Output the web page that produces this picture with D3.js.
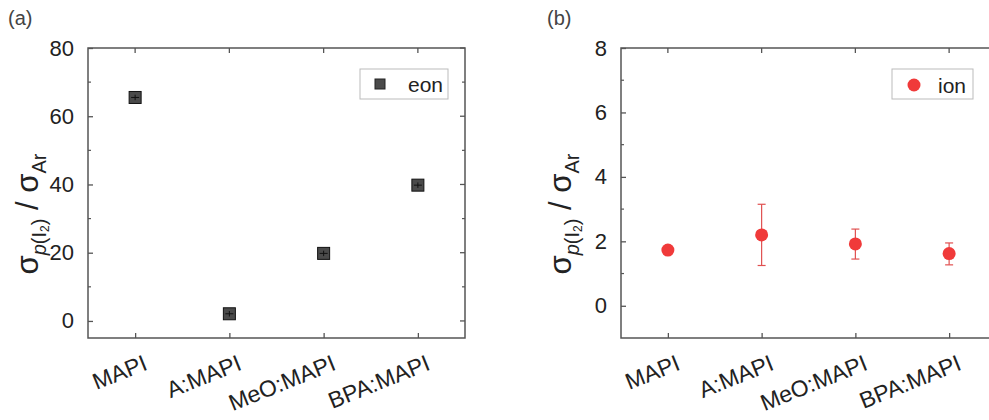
<!DOCTYPE html>
<html><head><meta charset="utf-8">
<script src="https://cdn.jsdelivr.net/npm/d3@7"></script>
<style>body{margin:0;background:#fff}svg{display:block}text{font-family:"Liberation Sans",Arial,sans-serif}</style>
</head><body><svg id="c" width="989" height="420"></svg>
<script>
const categories = ["MAPI","A:MAPI","MeO:MAPI","BPA:MAPI"];
const eonValues = [65.5, 2.1, 19.8, 39.8];
const eonErrors = [0.8, 0.8, 0.8, 0.8];
const ionValues = [1.73, 2.2, 1.92, 1.62];
const ionErrLow = [1.73, 1.25, 1.45, 1.27];
const ionErrHigh = [1.73, 3.15, 2.38, 1.95];
const eonTicks = [0,20,40,60,80];
const eonMinor = [10,30,50,70];
const ionTicks = [0,2,4,6,8];
const ionMinor = [-1,1,3,5,7];

const svg = d3.select("#c");
const axisColor = "#555";

function panel(opt){
  const g = svg.append("g");
  const x = d3.scaleLinear().domain([0.5,4.5]).range([opt.left, opt.right]);
  const y = d3.scaleLinear().domain(opt.ydom).range([338, 48]);
  g.append("rect").attr("x",opt.left).attr("y",48).attr("width",opt.right-opt.left).attr("height",290)
    .attr("fill","none").attr("stroke",axisColor).attr("stroke-width",1.5);
  const yl = g.append("g").attr("transform",`translate(${opt.left},0)`)
    .call(d3.axisLeft(y).tickValues(opt.ticks).tickSize(-5).tickPadding(14).tickFormat(d3.format("d")));
  yl.select(".domain").remove();
  yl.selectAll("line").attr("stroke",axisColor).attr("stroke-width",1.3);
  yl.selectAll("text").attr("font-size",22).attr("fill","#222");
  g.append("g").selectAll("line").data(opt.minor.filter(v=>v>opt.ydom[0])).join("line")
    .attr("x1",opt.left).attr("x2",opt.left+3).attr("y1",d=>y(d)).attr("y2",d=>y(d)).attr("stroke",axisColor).attr("stroke-width",1.2);
  g.append("g").selectAll("line").data(opt.ticks).join("line")
    .attr("x1",opt.right).attr("x2",opt.right-5).attr("y1",d=>y(d)).attr("y2",d=>y(d)).attr("stroke",axisColor).attr("stroke-width",1.3);
  g.append("g").selectAll("line").data(opt.minor.filter(v=>v>opt.ydom[0])).join("line")
    .attr("x1",opt.right).attr("x2",opt.right-3).attr("y1",d=>y(d)).attr("y2",d=>y(d)).attr("stroke",axisColor).attr("stroke-width",1.2);
  const xb = g.append("g").attr("transform","translate(0,338)")
    .call(d3.axisBottom(x).tickValues([1,2,3,4]).tickSize(-5).tickFormat(d=>categories[d-1]));
  xb.select(".domain").remove();
  xb.selectAll("line").attr("stroke",axisColor).attr("stroke-width",1.3);
  xb.selectAll("text").attr("font-size",23).attr("fill","#222")
    .attr("text-anchor","end").attr("dy",null).attr("y",0)
    .attr("transform","translate(13,31) rotate(-22)");
  g.append("g").selectAll("line").data([1,2,3,4]).join("line")
    .attr("x1",d=>x(d)).attr("x2",d=>x(d)).attr("y1",48).attr("y2",53).attr("stroke",axisColor).attr("stroke-width",1.3);
  g.append("text").attr("x",opt.labelX).attr("y",25).attr("font-size",20).attr("fill","#444").text(opt.label);
  const t = g.append("text").attr("transform",`translate(${opt.titleX},214) rotate(-90)`).attr("text-anchor","middle")
    .attr("font-size",31).attr("fill","#222");
  t.append("tspan").text("σ");
  t.append("tspan").attr("font-size",20).attr("font-style","italic").attr("dy",8).text("p");
  t.append("tspan").attr("font-size",20).text("(I");
  t.append("tspan").attr("font-size",12).attr("dy",3).text("2");
  t.append("tspan").attr("font-size",20).attr("dy",-3).text(")");
  t.append("tspan").attr("dy",-8).text(" / σ");
  t.append("tspan").attr("font-size",20).attr("dy",8).text("Ar");
  return {g,x,y};
}

const pa = panel({left:88,right:465,ydom:[-5,80],ticks:eonTicks,minor:eonMinor,label:"(a)",labelX:8,titleX:38});
const pb = panel({left:621,right:996,ydom:[-1,8],ticks:ionTicks,minor:ionMinor,label:"(b)",labelX:547,titleX:571});

pa.g.append("g").selectAll("rect").data(eonValues).join("rect")
  .attr("x",(d,i)=>pa.x(i+1)-6).attr("y",d=>pa.y(d)-6).attr("width",12).attr("height",12)
  .attr("fill","#4a4a4a").attr("stroke","#111").attr("stroke-width",1);
const ea = pa.g.append("g").attr("stroke","#111").attr("stroke-width",1);
eonValues.forEach((v,i)=>{
  const cx = pa.x(i+1);
  ea.append("line").attr("x1",cx).attr("x2",cx).attr("y1",pa.y(v-eonErrors[i])).attr("y2",pa.y(v+eonErrors[i]));
  ea.append("line").attr("x1",cx-4).attr("x2",cx+4).attr("y1",pa.y(v)).attr("y2",pa.y(v));
});

const red = "#f03a3a";
const eb = pb.g.append("g").attr("stroke","#e05050").attr("stroke-width",1.2);
ionValues.forEach((v,i)=>{
  if (ionErrHigh[i]===ionErrLow[i]) return;
  const cx = pb.x(i+1);
  eb.append("line").attr("x1",cx).attr("x2",cx).attr("y1",pb.y(ionErrLow[i])).attr("y2",pb.y(ionErrHigh[i]));
  [ionErrLow[i], ionErrHigh[i]].forEach(e=>eb.append("line").attr("x1",cx-4).attr("x2",cx+4).attr("y1",pb.y(e)).attr("y2",pb.y(e)));
});
pb.g.append("g").selectAll("circle").data(ionValues).join("circle")
  .attr("cx",(d,i)=>pb.x(i+1)).attr("cy",d=>pb.y(d)).attr("r",6.5).attr("fill",red);

const la = pa.g.append("g");
la.append("rect").attr("x",360).attr("y",69).attr("width",88).attr("height",30).attr("fill","#fff").attr("stroke","#bbb");
la.append("rect").attr("x",375).attr("y",79).attr("width",10).attr("height",10).attr("fill","#4a4a4a").attr("stroke","#222");
la.append("text").attr("x",408).attr("y",92).attr("font-size",21).attr("fill","#222").text("eon");
const lb = pb.g.append("g");
lb.append("rect").attr("x",892).attr("y",69).attr("width",81).attr("height",30).attr("fill","#fff").attr("stroke","#bbb");
lb.append("circle").attr("cx",914).attr("cy",85).attr("r",6.5).attr("fill",red);
lb.append("text").attr("x",938).attr("y",93).attr("font-size",21).attr("fill","#222").text("ion");
</script></body></html>
